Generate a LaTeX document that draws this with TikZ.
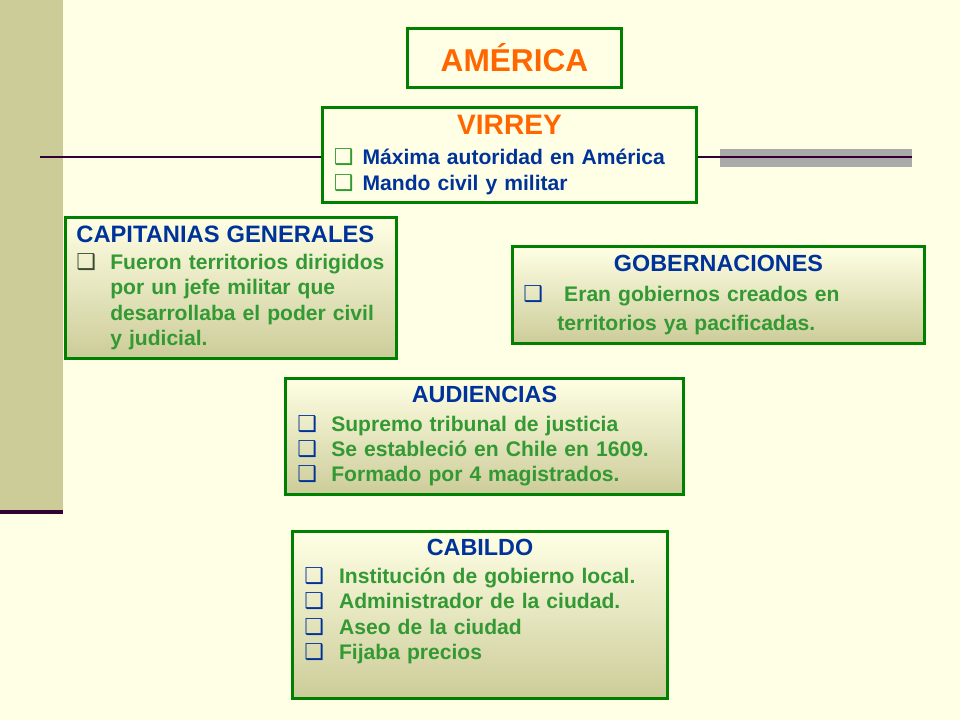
\documentclass[tikz,border=0pt]{standalone}
\usepackage{fontspec}
\setmainfont{Liberation Sans}
\newfontfamily\symfont{DejaVu Sans}

\definecolor{cream}{HTML}{FFFFE5}
\definecolor{olive}{HTML}{CCCC99}
\definecolor{boxgreen}{HTML}{008000}
\definecolor{txtgreen}{HTML}{339933}
\definecolor{navy}{HTML}{003399}
\definecolor{orng}{HTML}{FF6600}
\definecolor{plum}{HTML}{330033}
\definecolor{bargray}{HTML}{AAAAAA}
\definecolor{darkbul}{HTML}{3A4A30}

% bullet: colour, then width of the indent
\newcommand{\bul}[2][navy]{\makebox[#2][l]{\textcolor{#1}{\symfont\fontsize{12.5}{12}\selectfont ❑}}}

\tikzset{
  box/.style={draw=boxgreen, line width=1.7pt, inner xsep=6.5pt, inner ysep=0pt,
    align=left, font=\bfseries\fontsize{12}{14.5}\selectfont,
    execute at begin node={\hyphenpenalty=10000\relax}},
  shadedbox/.style={box, top color=cream, bottom color=olive},
  title/.style={font=\bfseries\fontsize{18}{20}\selectfont, text=orng}
}

\begin{document}
\begin{tikzpicture}[x=0.02cm, y=-0.02cm]

    % Background and page size
    \fill[cream] (0,0) rectangle (960,720);
    \useasboundingbox (0,0) rectangle (960,720);

    % Left band
    \fill[olive] (0,0) rectangle (63,510);
    \fill[plum] (0,510) rectangle (63,514);

    % Gray bar on the right
    \fill[bargray] (720,149) rectangle (912,167);

    % Title
    \node[box, title, fill=cream, minimum width=122pt, minimum height=33.5pt] (america) at (514.5,58) {AMÉRICA};

    % Virrey
    \node[box, fill=cream, text width=200pt, minimum height=54pt] (virrey) at (509.5,155) {%
      \makebox[\linewidth]{\fontsize{16}{18}\selectfont\color{orng}VIRREY}\\[2.5pt]
      \bul[txtgreen]{16.4pt}\textcolor{navy}{Máxima autoridad en América}\\
      \bul[txtgreen]{16.4pt}\textcolor{navy}{Mando civil y militar}};

    % Lines through the virrey box
    \coordinate (lstart) at (40,157);
    \coordinate (rend) at (912,157);
    \draw[plum, line width=1.2pt] (lstart) -- (lstart -| virrey.west);
    \draw[plum, line width=1.2pt] (rend -| virrey.east) -- (rend);

    % Capitanias generales
    \node[shadedbox, inner xsep=4pt, text width=180pt, minimum height=80pt] (capitanias) at (231,288) {%
      \hspace*{2pt}{\fontsize{13.5}{15}\selectfont\color{navy}CAPITANIAS GENERALES}\\[1pt]
      \color{txtgreen}\hspace*{2pt}\bul[darkbul]{19.3pt}Fueron territorios dirigidos\\
      \hspace*{21.3pt}por un jefe militar que\\
      \hspace*{21.3pt}desarrollaba el poder civil\\
      \hspace*{21.3pt}y judicial.};

    % Gobernaciones
    \node[shadedbox, text width=222pt, minimum height=55pt] (gobernaciones) at (718.5,295) {%
      \makebox[\linewidth]{\fontsize{13.3}{15}\selectfont\color{navy}GOBERNACIONES}\\[3pt]
      \color{txtgreen}\bul{23.2pt}Eran gobiernos creados en\\[2pt]
      \hspace*{19.3pt}territorios ya pacificadas.};

    % Audiencias
    \node[shadedbox, text width=213pt, minimum height=66pt] (audiencias) at (484.5,436.5) {%
      \makebox[\linewidth]{\fontsize{13.3}{15}\selectfont\color{navy}AUDIENCIAS}\\[1.5pt]
      \color{txtgreen}\bul{19.3pt}Supremo tribunal de justicia\\
      \bul{19.3pt}Se estableció en Chile en 1609.\\
      \bul{19.3pt}Formado por 4 magistrados.};

    % Cabildo
    \node[shadedbox, text width=200pt, minimum height=95pt] (cabildo) at (480,615) {%
      \makebox[\linewidth]{\fontsize{13.3}{15}\selectfont\color{navy}CABILDO}\\[1.5pt]
      \color{txtgreen}\bul{19.8pt}Institución de gobierno local.\\
      \bul{19.8pt}Administrador de la ciudad.\\
      \bul{19.8pt}Aseo de la ciudad\\
      \bul{19.8pt}Fijaba precios\\[3.5pt]
      \mbox{}};

\end{tikzpicture}
\end{document}
